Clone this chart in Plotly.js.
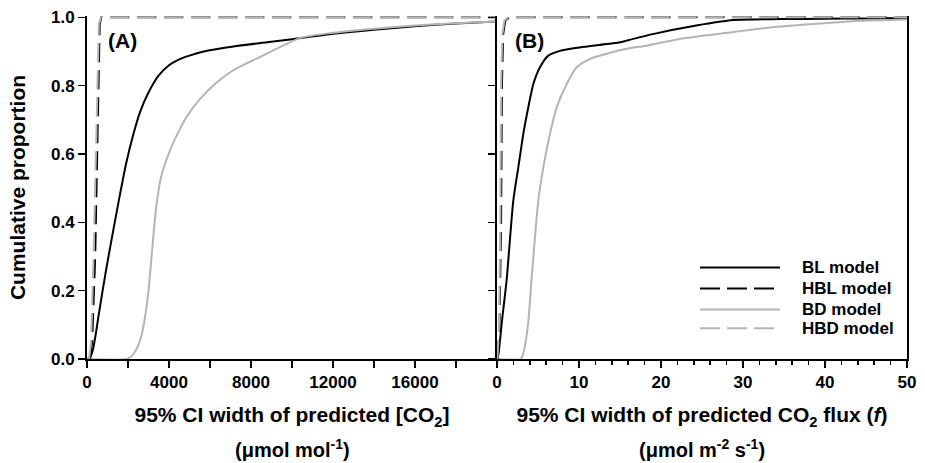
<!DOCTYPE html>
<html>
<head>
<meta charset="utf-8">
<script src="https://cdn.plot.ly/plotly-3.0.1.min.js"></script>
<style>html,body{margin:0;padding:0;background:#fff;}#chart{width:925px;height:463px;}</style>
</head>
<body>
<div id="chart"></div>
<script>
// ---- Panel A: 95% CI width of predicted [CO2] (umol mol-1) ----
const blA_x = [0, 150, 300, 600, 900, 1200, 1540, 1900, 2270, 2600, 3000, 3500, 4000, 4500, 5000, 5850, 7150, 8780, 10000, 12000, 14000, 16000, 18000, 20000];
const blA_y = [0, 0.005, 0.03, 0.14, 0.25, 0.35, 0.46, 0.57, 0.66, 0.725, 0.78, 0.83, 0.86, 0.877, 0.888, 0.902, 0.915, 0.927, 0.936, 0.952, 0.964, 0.974, 0.982, 0.988];
const bdA_x = [0, 1950, 2200, 2500, 2700, 2850, 3000, 3150, 3300, 3410, 3600, 3980, 4300, 4870, 5530, 6340, 7150, 8780, 10410, 12000, 14000, 16000, 18000, 20000];
const bdA_y = [0, 0, 0.01, 0.04, 0.08, 0.13, 0.2, 0.3, 0.4, 0.46, 0.53, 0.6, 0.645, 0.71, 0.762, 0.81, 0.846, 0.894, 0.94, 0.955, 0.967, 0.976, 0.983, 0.988];
const hblA_x = [150, 250, 400, 500, 570, 620, 700, 20000];
const hblA_y = [0, 0.05, 0.3, 0.6, 0.9, 0.98, 1.0, 1.0];
const hbdA_x = [100, 200, 320, 430, 520, 580, 680, 20000];
const hbdA_y = [0, 0.05, 0.3, 0.6, 0.9, 0.98, 1.0, 1.0];

// ---- Panel B: 95% CI width of predicted CO2 flux (umol m-2 s-1) ----
const blB_x = [0, 0.15, 0.6, 1.17, 1.99, 2.6, 3.21, 3.82, 4.43, 5.24, 6.26, 7.68, 10.1, 15.0, 15.8, 19.0, 24.3, 28.8, 34.5, 40, 45, 50];
const blB_y = [0, 0.01, 0.11, 0.23, 0.464, 0.561, 0.659, 0.737, 0.805, 0.854, 0.888, 0.902, 0.912, 0.927, 0.932, 0.951, 0.976, 0.992, 0.995, 0.996, 0.997, 0.998];
const bdB_x = [0, 2.9, 3.2, 3.8, 4.2, 5.04, 5.65, 6.46, 7.28, 8.5, 9.72, 11.3, 13.3, 15.8, 18.2, 22.3, 28.4, 34.5, 40, 44.3, 50];
const bdB_y = [0, 0, 0.016, 0.104, 0.23, 0.464, 0.561, 0.659, 0.737, 0.805, 0.854, 0.878, 0.893, 0.908, 0.917, 0.937, 0.956, 0.973, 0.983, 0.99, 0.994];
const hblB_x = [0.1, 0.3, 0.5, 0.6, 0.75, 1.0, 1.5, 50];
const hblB_y = [0, 0.1, 0.4, 0.8, 0.95, 0.99, 1.0, 1.0];
const hbdB_x = [0.05, 0.25, 0.4, 0.5, 0.65, 0.9, 1.4, 50];
const hbdB_y = [0, 0.1, 0.4, 0.8, 0.95, 0.99, 1.0, 1.0];

const seriesNames = ["BL model", "HBL model", "BD model", "HBD model"];
const xTicksA = [0, 4000, 8000, 12000, 16000];
const xTickTextA = ["0", "4000", "8000", "12000", "16000"];
const xTicksB = [0, 10, 20, 30, 40, 50];
const yTicks = [0, 0.2, 0.4, 0.6, 0.8, 1.0];

const BLACK = "#000000", GREY = "#b4b4b4";
const seriesColors = [BLACK, BLACK, GREY, GREY];
const seriesDash = ["solid", "19px,8px", "solid", "19px,8px"];
const legendDash = [null, "20px,7px", null, "20px,7px"];
const FONT = "'Liberation Sans', Arial, Helvetica, sans-serif";

function tr(x, y, i, xa, ya) {
  return {
    x: x, y: y, name: seriesNames[i], type: "scatter", mode: "lines",
    xaxis: xa, yaxis: ya, showlegend: false,
    line: {color: seriesColors[i], width: 2, dash: seriesDash[i],
           shape: seriesDash[i] === "solid" ? "spline" : "linear", smoothing: 0.6}
  };
}

const data = [
  tr(blA_x, blA_y, 0, "x", "y"),
  tr(bdA_x, bdA_y, 2, "x", "y"),
  tr(hblA_x, hblA_y, 1, "x", "y"),
  tr(hbdA_x, hbdA_y, 3, "x", "y"),
  tr(blB_x, blB_y, 0, "x2", "y2"),
  tr(bdB_x, bdB_y, 2, "x2", "y2"),
  tr(hblB_x, hblB_y, 1, "x2", "y2"),
  tr(hbdB_x, hbdB_y, 3, "x2", "y2")
];

const tickFont = {family: FONT, size: 17, color: "#000", weight: 700};
const titleFont = {family: FONT, size: 21, color: "#000", weight: 700};
const unitFont = {family: FONT, size: 20, color: "#000", weight: 700};

const baseX = {
  showgrid: false, zeroline: false, showline: true, linecolor: "#000", linewidth: 2,
  ticks: "outside", ticklen: 7, tickwidth: 1.5, tickcolor: "#000", tickfont: tickFont,
  mirror: false
};
const baseY = {
  showgrid: false, zeroline: false, showline: true, linecolor: "#000", linewidth: 2,
  ticks: "outside", ticklen: 7, tickwidth: 1.5, tickcolor: "#000", tickfont: tickFont,
  range: [0, 1.004], tickvals: yTicks, tickformat: ".1f"
};

// custom legend (long line samples, as in the reference)
const legX0 = 0.7476, legX1 = 0.8451, legTextX = 0.8695;
const legY = [0.2668, 0.2055, 0.1443, 0.0895];
const shapes = seriesNames.map((n, i) => ({
  type: "line", xref: "paper", yref: "paper", x0: legX0, x1: legX1, y0: legY[i], y1: legY[i],
  line: {color: seriesColors[i], width: 2, dash: legendDash[i] || "solid"}
}));
const legendTexts = seriesNames.map((n, i) => ({
  text: "<b>" + n + "</b>", xref: "paper", yref: "paper", x: legTextX, y: legY[i],
  xanchor: "left", yanchor: "middle", showarrow: false,
  font: {family: FONT, size: 17, color: "#000", weight: 700}
}));

const layout = {
  width: 925, height: 463,
  margin: {l: 87, r: 18, t: 16, b: 104},
  paper_bgcolor: "#fff", plot_bgcolor: "#fff",
  font: {family: FONT, color: "#000"},
  showlegend: false,
  xaxis: Object.assign({}, baseX, {
    domain: [0, 0.5], range: [0, 20000], tickvals: xTicksA, ticktext: xTickTextA,
    minor: {dtick: 2000, ticklen: 7, tickwidth: 1.5, tickcolor: "#000", ticks: "outside"},
    title: {text: "<b>95% CI width of predicted [CO<sub>2</sub>]</b>", font: titleFont, standoff: 16},
    anchor: "y"
  }),
  yaxis: Object.assign({}, baseY, {
    domain: [0, 1], anchor: "x",
    title: {text: "<b>Cumulative proportion</b>", font: titleFont, standoff: 20}
  }),
  xaxis2: Object.assign({}, baseX, {
    domain: [0.5, 1], range: [0, 50], tickvals: xTicksB,
    minor: {dtick: 2, ticklen: 4, tickwidth: 1.5, tickcolor: "#000", ticks: "outside"},
    title: {text: "<b>95% CI width of predicted CO<sub>2</sub> flux (<i>f</i>)</b>", font: titleFont, standoff: 16},
    anchor: "y2"
  }),
  yaxis2: Object.assign({}, baseY, {
    domain: [0, 1], anchor: "x2", showticklabels: false, mirror: true
  }),
  shapes: shapes,
  annotations: [
    {text: "<b>(A)</b>", xref: "paper", yref: "paper", x: 0.0433, y: 0.93, showarrow: false,
     xanchor: "center", yanchor: "middle", font: {family: FONT, size: 21, color: "#000", weight: 700}},
    {text: "<b>(B)</b>", xref: "paper", yref: "paper", x: 0.540, y: 0.93, showarrow: false,
     xanchor: "center", yanchor: "middle", font: {family: FONT, size: 21, color: "#000", weight: 700}},
    {text: "<b>(\u03bcmol mol<sup>-1</sup>)</b>", xref: "paper", yref: "paper", x: 0.25, y: -0.262, showarrow: false,
     xanchor: "center", yanchor: "middle", font: unitFont},
    {text: "<b>(\u03bcmol m<sup>-2</sup> s<sup>-1</sup>)</b>", xref: "paper", yref: "paper", x: 0.75, y: -0.262, showarrow: false,
     xanchor: "center", yanchor: "middle", font: unitFont}
  ].concat(legendTexts)
};

Plotly.newPlot("chart", data, layout, {staticPlot: true, displayModeBar: false});
</script>
</body>
</html>
